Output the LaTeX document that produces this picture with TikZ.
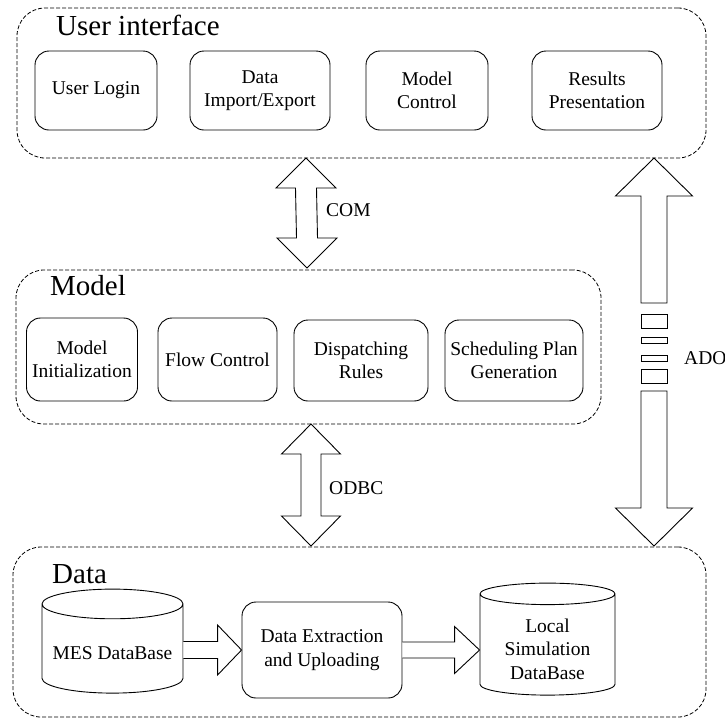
\documentclass[tikz,border=0pt]{standalone}
\usepackage{fontspec}
\setmainfont{Liberation Serif}
\newfontfamily\timesfont{Liberation Serif}
\usetikzlibrary{shapes.geometric,calc}

\tikzset{
  layer/.style={draw, dash pattern=on 4pt off 2pt, rounded corners=28pt, line width=0.8pt},
  func/.style={draw, rounded corners=14pt, line width=0.9pt, align=center, inner sep=2pt,
    font=\timesfont\fontsize{19.5}{23.5}\selectfont},
  dbase/.style={draw, cylinder, shape border rotate=90, aspect=0.24, line width=0.9pt,
    inner sep=2pt, font=\timesfont\fontsize{19.5}{23.5}\selectfont},
  layertitle/.style={anchor=base west, inner sep=0pt, font=\timesfont\fontsize{29}{34}\selectfont},
  lbl/.style={anchor=west, inner sep=0pt, font=\timesfont\fontsize{19.5}{23.5}\selectfont},
  fat/.style={draw, line width=0.9pt, line join=miter, fill=white}
}

% two-headed block arrow: top tip, bottom tip, head half width, shaft half width, head length
\newcommand{\twowayarrow}[5]{%
  \draw[fat] let \p1=(#1), \p2=(#2) in
    (\p1) -- (\x1+#3pt,\y1-#5pt) -- (\x1+#4pt,\y1-#5pt) -- (\x2+#4pt,\y2+#5pt)
    -- (\x2+#3pt,\y2+#5pt) -- (\p2) -- (\x2-#3pt,\y2+#5pt) -- (\x2-#4pt,\y2+#5pt)
    -- (\x1-#4pt,\y1-#5pt) -- (\x1-#3pt,\y1-#5pt) -- cycle;}

% one-headed block arrow to the right: start, tip, head half width, shaft half width, head length
\newcommand{\flowarrow}[5]{%
  \draw[fat] let \p1=(#1), \p2=(#2) in
    (\x1,\y2+#4pt) -- (\x2-#5pt,\y2+#4pt) -- (\x2-#5pt,\y2+#3pt) -- (\p2)
    -- (\x2-#5pt,\y2-#3pt) -- (\x2-#5pt,\y2-#4pt) -- (\x1,\y2-#4pt);}

\begin{document}
\begin{tikzpicture}[x=1pt, y=-1pt]
\useasboundingbox (0,0) rectangle (725,721);

% user interface layer
\node[layer, minimum width=689pt, minimum height=150pt] (ui) at (361.5,83) {};
\node[layertitle] (uititle) at (56,35) {User interface};
\node[func, minimum width=122pt, minimum height=79pt] (login) at (96,90.5) {User Login};
\node[func, minimum width=140pt, minimum height=79pt] (impexp) at (260,90.5) {Data\\Import/Export};
\node[func, minimum width=122pt, minimum height=79pt] (mctrl) at (427,90.5) {Model\\Control};
\node[func, minimum width=130pt, minimum height=79pt] (results) at (597,90.5) {Results\\Presentation};

% model layer
\node[layer, minimum width=585pt, minimum height=154pt] (model) at (308.5,347) {};
\node[layertitle] (modeltitle) at (50,295) {Model};
\node[func, minimum width=111pt, minimum height=83pt] (minit) at (82,359.5) {Model\\Initialization};
\node[func, minimum width=119pt, minimum height=83pt] (flow) at (217.5,359.5) {Flow Control};
\node[func, minimum width=134pt, minimum height=81pt] (disp) at (361,360.5) {Dispatching\\Rules};
\node[func, minimum width=138pt, minimum height=81pt] (sched) at (514,360.5) {Scheduling Plan\\Generation};

% data layer
\node[layer, minimum width=693pt, minimum height=170pt] (data) at (359.5,632) {};
\node[layertitle] (datatitle) at (52,583) {Data};
\node[dbase, minimum width=141pt, minimum height=104pt] (mes) at (112.5,650.5)
  {\raisebox{-3pt}[\height][\depth]{MES DataBase}};
\node[func, minimum width=160pt, minimum height=96pt] (dex) at (322,650) {Data Extraction\\and Uploading};
\node[dbase, minimum width=135pt, minimum height=112pt] (local) at (547.5,646)
  {\raisebox{-5pt}[\height][\depth]{\begin{tabular}{@{}c@{}}Local\\Simulation\\DataBase\end{tabular}}};

% connectors
\coordinate (comT) at (306,158);
\coordinate (comB) at (307,268);
\coordinate (odbcT) at (311,424);
\coordinate (odbcB) at (311,546);
\coordinate (adoT) at (654,158);
\coordinate (adoB) at (654,546);
\twowayarrow{comT}{comB}{30}{10.5}{30}
\twowayarrow{odbcT}{odbcB}{29.5}{10}{30}
\draw[fat] let \p1=(adoT) in (\p1) -- (\x1+38.5pt,\y1-38pt) -- (\x1+13pt,\y1-38pt)
  -- (\x1+13pt,\y1-145pt) -- (\x1-13pt,\y1-145pt) -- (\x1-13pt,\y1-38pt)
  -- (\x1-38.5pt,\y1-38pt) -- cycle;
\foreach \ya/\yb in {314/328,337/343,355/361,369/383}
  \draw[fat] (641,\ya) rectangle (667,\yb);
\draw[fat] let \p1=(adoB) in (\p1) -- (\x1+38.5pt,\y1+38pt) -- (\x1+13pt,\y1+38pt)
  -- (\x1+13pt,\y1+155pt) -- (\x1-13pt,\y1+155pt) -- (\x1-13pt,\y1+38pt)
  -- (\x1-38.5pt,\y1+38pt) -- cycle;
\flowarrow{mes.east}{dex.west}{25}{8.5}{24}
\flowarrow{dex.east}{local.west |- dex.east}{23.5}{8}{25}

\node[lbl] (com) at (326,210) {COM};
\node[lbl] (odbc) at (329,488) {ODBC};
\node[lbl] (ado) at (684,358) {ADO};
\end{tikzpicture}
\end{document}
